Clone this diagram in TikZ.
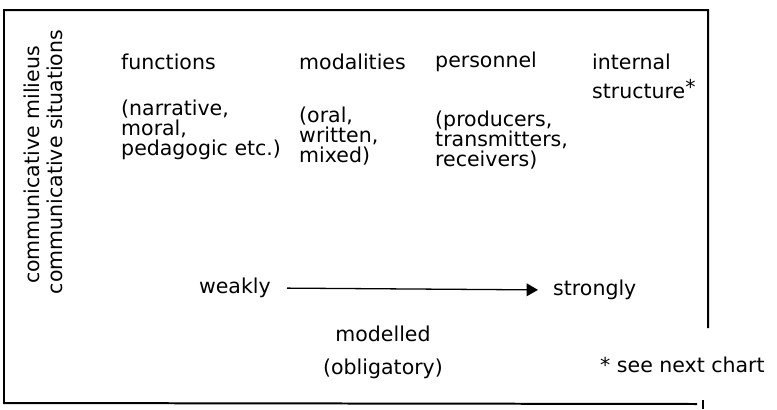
\documentclass[tikz,border=0pt]{standalone}
\usepackage{fontspec}
\setmainfont{DejaVu Sans}
\usetikzlibrary{arrows.meta,positioning}
\tikzset{
  frame/.style={black,line width=1.7pt},
  gradient/.style={-{Triangle[length=3.4mm,width=3.8mm]},black,line width=1.1pt},
  word/.style={inner sep=0pt,text=black,font=\fontsize{17.5}{17}\selectfont,align=left},
  head/.style={word,anchor=west},
  list/.style={word,anchor=west},
  side/.style={word,rotate=90},
}

\begin{document}
\begin{tikzpicture}[x=0.03cm,y=-0.03cm]
  \useasboundingbox (0,0) rectangle (777,409);
  % open frame
  \draw[frame] (708,328) -- (708,10) -- (4,10) -- (4,403) -- (697,404);
  \draw[frame] (703,400) -- (703,409);
  % side labels
  \node[side] (milieus) at (32,165) {communicative milieus};
  \node[side] (situations) at (55,162) {communicative situations};
  % column heads
  \node[head] (functions) at (121,62) {functions};
  \node[head] (modalities) at (299,62) {modalities};
  \node[head] (personnel) at (435,62) {personnel};
  \node[head] (internal) at (592,62) {internal};
  \node[head] (structure) at (592,89) {structure\raisebox{0.35ex}{*}};
  % lists
  \node[list] (funclist) at (121,130) {(narrative,\\moral,\\pedagogic etc.)};
  \node[list] (modlist) at (299,136) {(oral,\\written,\\mixed)};
  \node[list] (perslist) at (435,140) {(producers,\\transmitters,\\receivers)};
  % scale
  \node[word,anchor=east] (weakly) at (271,288) {weakly};
  \node[word,anchor=west] (strongly) at (553,290) {strongly};
  \draw[gradient,shorten <=0.48cm,shorten >=0.45cm] (weakly.east) -- (strongly.west);
  \node[word] (modelled) at (383,334) {modelled};
  \node[word] (obligatory) at (383,369) {(obligatory)};
  \node[word,anchor=west] (note) at (600,365) {* see next chart};
\end{tikzpicture}
\end{document}
